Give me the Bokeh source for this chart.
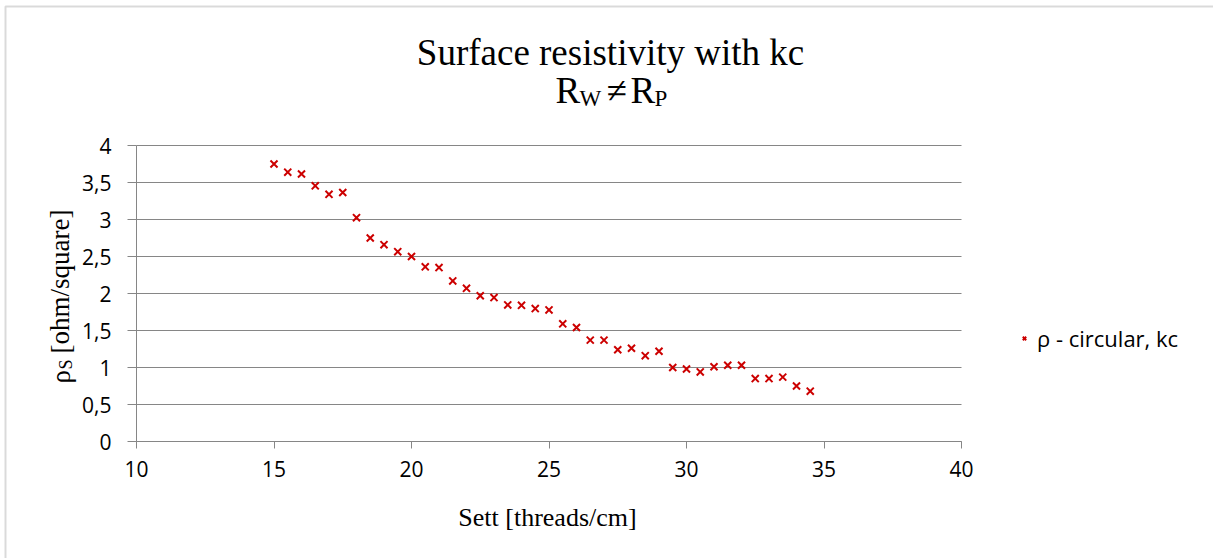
from bokeh.plotting import figure
from bokeh.models import (FixedTicker, Label, Legend, LegendItem, PolyAnnotation,
                          Range1d, CustomJSTickFormatter, LinearAxis)
from bokeh.embed import file_html
from bokeh.resources import INLINE

# ---------------- data ----------------
sett = [15, 15.5, 16, 16.5, 17, 17.5, 18, 18.5, 19, 19.5,
        20, 20.5, 21, 21.5, 22, 22.5, 23, 23.5, 24, 24.5,
        25, 25.5, 26, 26.5, 27, 27.5, 28, 28.5, 29, 29.5,
        30, 30.5, 31, 31.5, 32, 32.5, 33, 33.5, 34, 34.5]
rho = [3.75, 3.64, 3.615, 3.455, 3.34, 3.365, 3.025, 2.75, 2.66, 2.565,
       2.50, 2.36, 2.35, 2.17, 2.07, 1.97, 1.945, 1.846, 1.84, 1.796,
       1.778, 1.59, 1.54, 1.37, 1.37, 1.24, 1.26, 1.16, 1.22, 1.00,
       0.98, 0.94, 1.01, 1.03, 1.03, 0.85, 0.85, 0.87, 0.75, 0.68]
x_ticks = [10, 15, 20, 25, 30, 35, 40]
y_ticks = [0, 0.5, 1, 1.5, 2, 2.5, 3, 3.5, 4]
y_tick_labels = ["0", "0,5", "1", "1,5", "2", "2,5", "3", "3,5", "4"]
series_label = "ρ - circular, kc"
title_line1 = "Surface resistivity with kc"
x_title = "Sett [threads/cm]"

# ---------------- layout ----------------
W, H = 1213, 558
FL, FR, FT, FB = 136, 961, 145, 441   # plot-area edges in canvas px
X0, X1, Y0, Y1 = 10, 40, 0, 4         # axis limits


def dx(px):
    return X0 + (px - FL) * (X1 - X0) / (FR - FL)


def dy(py):
    return Y0 + (FB - py) * (Y1 - Y0) / (FB - FT)


# the frame fills the whole canvas; the axes are pinned at the plot-area edges
p = figure(width=W, height=H, x_range=Range1d(dx(0), dx(W)), y_range=Range1d(dy(H), dy(0)),
           output_backend="svg", toolbar_location=None, title=None,
           x_axis_location=None, y_axis_location=None,
           min_border=0)
p.outline_line_color = None
p.background_fill_color = "white"
p.border_fill_color = "white"
p.grid.visible = False

GRAY = "#868686"
SANS = "Open Sans"
SERIF = "Liberation Serif"

# horizontal gridlines at the y ticks, over the axis extent
p.segment(x0=[X0] * len(y_ticks), x1=[X1] * len(y_ticks), y0=y_ticks, y1=y_ticks,
          line_color=GRAY, line_width=1)

xaxis = LinearAxis(fixed_location=Y0, bounds=(X0, X1), ticker=FixedTicker(ticks=x_ticks))
yaxis = LinearAxis(fixed_location=X0, bounds=(Y0, Y1), ticker=FixedTicker(ticks=y_ticks))
yaxis.formatter = CustomJSTickFormatter(
    args=dict(yt=y_ticks, yl=y_tick_labels),
    code="""
    for (let i = 0; i < yt.length; i++) {
        if (Math.abs(yt[i] - tick) < 1e-9) return yl[i];
    }
    return tick.toString();
    """)
for ax in (xaxis, yaxis):
    ax.axis_line_color = GRAY
    ax.major_tick_line_color = GRAY
    ax.minor_tick_line_color = None
    ax.major_tick_in = 0
    ax.major_label_text_font = SANS
    ax.major_label_text_font_size = "21px"
    ax.major_label_text_color = "black"
xaxis.major_tick_out = 7
xaxis.major_label_standoff = 12
yaxis.major_tick_out = 9
yaxis.major_label_standoff = 16
p.add_layout(xaxis, "below")
p.add_layout(yaxis, "left")

r = p.scatter(sett, rho, marker="x", size=10, line_color="#CC0000", line_width=2)

legend = Legend(items=[LegendItem(label=series_label, renderers=[r])],
                location=(1018, H - 353), padding=0, margin=0, spacing=0,
                glyph_width=12, glyph_height=20, label_standoff=7,
                border_line_color=None, background_fill_alpha=0,
                label_text_font=SANS, label_text_font_size="22px",
                label_text_color="black")
p.add_layout(legend, "center")


def lab(text, px, py, size, font=SERIF, align="left", angle=0):
    p.add_layout(Label(x=dx(px), y=dy(py), text=text, text_font=font,
                       text_font_size=f"{size}px", text_align=align,
                       text_baseline="alphabetic", angle=angle,
                       text_color="black"))


# title
lab(title_line1, 610, 52, 37, align="center")
lab("R", 555, 90, 37)
lab("W", 579, 98, 23)
lab("≠", 606, 90, 37)
lab("R", 630, 90, 37)
lab("P", 654, 98, 23)

# x axis title
lab(x_title, 547, 517, 26, align="center")

# y axis title (rotated)
lab("ρ", 60, 383, 27, angle=1.5708)
lab("S", 65, 369, 18, angle=1.5708)
lab("[ohm/square]", 60, 353, 27, angle=1.5708)

# outer chart border (left and top visible)
p.add_layout(PolyAnnotation(xs=[dx(5), dx(5), dx(1400), dx(1400)],
                            ys=[dy(700), dy(6), dy(6), dy(700)],
                            fill_alpha=0, line_color=GRAY, line_width=2))

open("out.html", "w").write(file_html(p, INLINE))
